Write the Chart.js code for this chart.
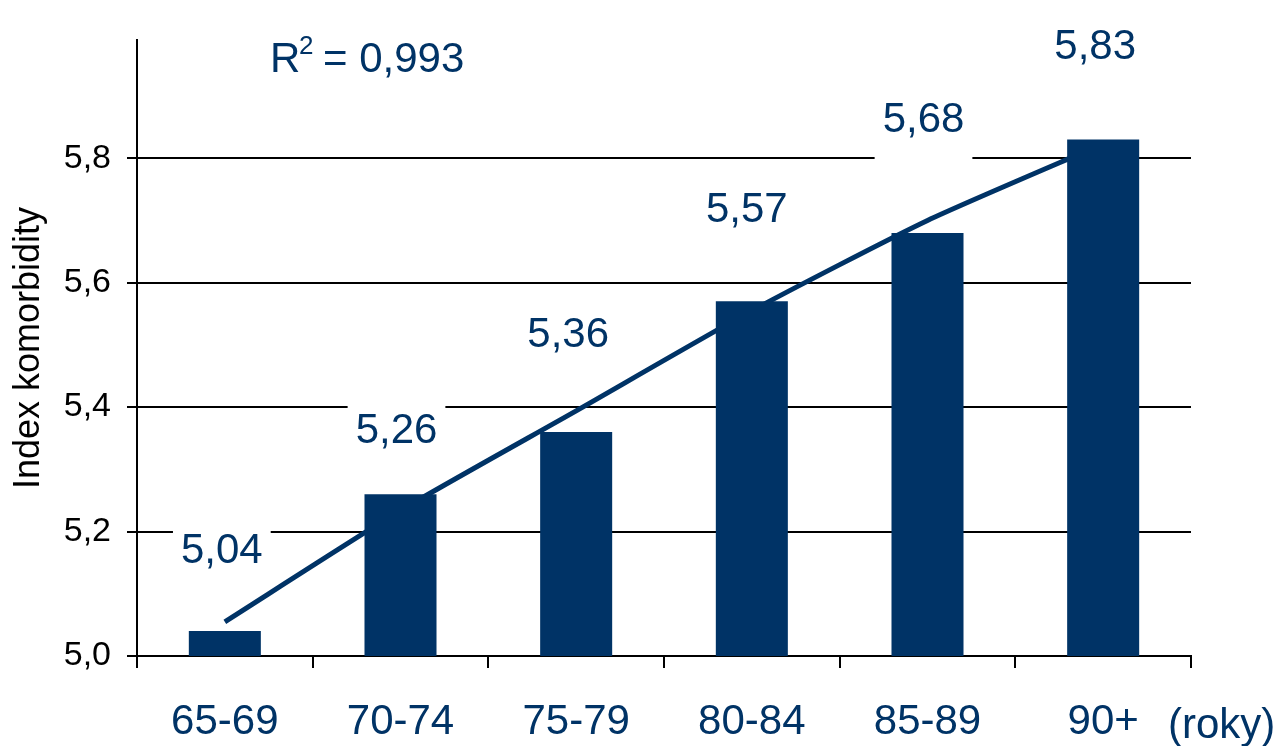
<!DOCTYPE html>
<html>
<head>
<meta charset="utf-8">
<script src="https://cdn.jsdelivr.net/npm/chart.js@4/dist/chart.umd.min.js"></script>
<style>
  body { margin: 0; background: #fff; }
  canvas { display: block; }
</style>
</head>
<body>
<canvas id="chart" width="1274" height="746"></canvas>
<script>
const ageGroups = ["65-69", "70-74", "75-79", "80-84", "85-89", "90+"];
const comorbidity = [5.04, 5.26, 5.36, 5.57, 5.68, 5.83];
const trendValues = [5.055, 5.234, 5.394, 5.555, 5.700, 5.823];
const rSquared = "0,993";
const unitLabel = "(roky)";

const blue = "#003366";
const fontFamily = "'Liberation Sans', Arial, sans-serif";

// how far each value label sits above its bar, and its sideways nudge
const labelLift = [81, 64, 98, 92, 113, 93];
const labelShift = [-3, -4, -8, -5, -4, -8];

const toComma = (v, digits) => v.toFixed(digits).replace(".", ",");

const valueLabels = {
    id: "valueLabels",
    beforeDatasetsDraw(chart) {
        const ctx = chart.ctx;
        const bars = chart.getDatasetMeta(1).data;
        ctx.save();
        ctx.font = "42px " + fontFamily;
        ctx.textAlign = "center";
        ctx.textBaseline = "middle";
        bars.forEach((bar, i) => {
            let text = toComma(comorbidity[i], 2);
            let x = bar.x + labelShift[i];
            let y = bar.y - labelLift[i];
            let w = ctx.measureText(text).width;
            // white box behind the label hides the gridline
            ctx.fillStyle = "#fff";
            ctx.fillRect(x - w / 2 - 8, y - 27, w + 16, 70);
            ctx.fillStyle = blue;
            ctx.fillText(text, x, y + 1);
        });
        ctx.restore();
    },
    afterDraw(chart) {
        const ctx = chart.ctx;
        ctx.save();
        ctx.fillStyle = blue;
        ctx.textBaseline = "alphabetic";
        ctx.textAlign = "left";
        ctx.font = "42px " + fontFamily;
        ctx.fillText("R", 270, 72);
        ctx.font = "26px " + fontFamily;
        ctx.fillText("2", 299, 54);
        ctx.font = "42px " + fontFamily;
        ctx.fillText("= " + rSquared, 323, 72);
        ctx.fillText(unitLabel, 1168, 738);
        ctx.restore();
    }
};

let chx = document.getElementById("chart");
let comorbidityChart = new Chart(chx, {
    data: {
        labels: ageGroups,
        datasets: [
            {
                type: "line",
                label: "trend",
                data: trendValues,
                borderColor: blue,
                borderWidth: 5,
                pointRadius: 0,
                tension: 0.2,
                fill: false,
                order: 2
            },
            {
                type: "bar",
                label: "Index komorbidity",
                data: comorbidity,
                backgroundColor: blue,
                borderWidth: 0,
                barPercentage: 0.41,
                categoryPercentage: 1,
                order: 1
            }
        ]
    },
    options: {
        responsive: false,
        animation: false,
        layout: { padding: { left: 0, top: 40, right: 83, bottom: 0 } },
        plugins: {
            legend: { display: false },
            tooltip: { enabled: false }
        },
        scales: {
            x: {
                offset: true,
                grid: {
                    offset: true,
                    drawOnChartArea: false,
                    drawTicks: true,
                    tickLength: 12,
                    color: "#000",
                    lineWidth: 2
                },
                border: { color: "#000", width: 2 },
                ticks: {
                    color: blue,
                    padding: 29,
                    font: { family: fontFamily, size: 42 },
                    maxRotation: 0
                },
                afterFit: (scale) => { scale.height = 90; }
            },
            y: {
                min: 5,
                max: 5.99,
                grid: {
                    color: "#000",
                    lineWidth: 2,
                    drawTicks: true,
                    tickLength: 10
                },
                border: { color: "#000", width: 2 },
                ticks: {
                    stepSize: 0.2,
                    color: "#000",
                    padding: 16,
                    font: { family: fontFamily, size: 34 },
                    callback: (v) => toComma(v, 1)
                },
                afterBuildTicks: (scale) => {
                    scale.ticks = scale.ticks.filter((t) => t.value < 5.85);
                },
                title: {
                    display: true,
                    text: "Index komorbidity",
                    color: "#000",
                    font: { family: fontFamily, size: 36 },
                    padding: { top: 7, bottom: 0 }
                },
                afterFit: (scale) => { scale.width = 137; }
            }
        }
    },
    plugins: [valueLabels]
});
</script>
</body>
</html>
